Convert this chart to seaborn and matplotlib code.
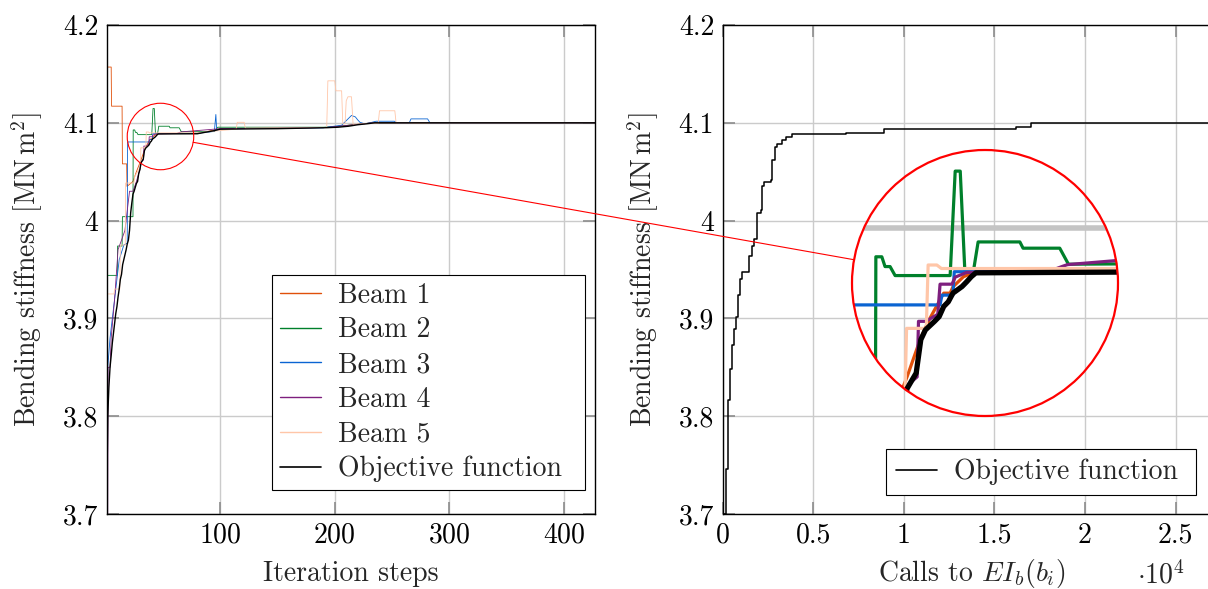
import numpy as np
import matplotlib
matplotlib.use("Agg")
import matplotlib.pyplot as plt
import seaborn as sns
from matplotlib.patches import Circle, Ellipse
from matplotlib.lines import Line2D
from matplotlib.ticker import FuncFormatter, MultipleLocator

# ---- data ----
# objective function vs. iteration steps (left)
iter_obj = [1, 2, 3, 4, 5, 6, 7, 8, 9, 10, 11, 12, 13, 14, 15, 16, 17, 18, 19, 20,
            21, 22, 23, 24, 25, 26, 27, 28, 29, 30, 31, 33, 34, 35, 37, 38, 39, 40,
            41, 43, 44, 45, 46, 80, 88, 95, 100, 150, 193, 203, 212, 220, 228, 235, 427]
val_obj = [3.700, 3.800, 3.830, 3.850, 3.862, 3.875, 3.885, 3.895, 3.905, 3.912,
           3.922, 3.930, 3.940, 3.945, 3.955, 3.960, 3.965, 3.970, 3.976, 3.980,
           3.990, 4.008, 4.018, 4.027, 4.030, 4.034, 4.038, 4.040, 4.048, 4.052,
           4.059, 4.063, 4.0715, 4.074, 4.0762, 4.0774, 4.080, 4.0812, 4.0834, 4.0851,
           4.0863, 4.0876, 4.0886, 4.0888, 4.0905, 4.092, 4.0935, 4.094, 4.095, 4.0955,
           4.0965, 4.098, 4.099, 4.100, 4.100]

iter_b1 = [1, 5, 5.3, 14.5, 14.8, 18.5, 18.8, 24, 27, 31, 34, 36, 39, 40.4, 41, 43.3,
           46, 80, 100, 193, 233, 427]
val_b1 = [4.157, 4.157, 4.117, 4.117, 4.058, 4.058, 4.035, 4.040, 4.050, 4.062, 4.072,
          4.077, 4.0834, 4.0834, 4.085, 4.0876, 4.0889, 4.0891, 4.0938, 4.0952, 4.100, 4.100]

iter_b2 = [1, 10.3, 10.6, 14.5, 14.8, 24, 24.2, 25.5, 26.2, 27.3, 28.4, 40.4, 41.5, 42.6,
           43.6, 45.5, 46.5, 55.6, 56.3, 64.3, 66.2, 95, 98, 190, 200, 233, 427]
val_b2 = [3.944, 3.944, 3.974, 3.974, 4.004, 4.004, 4.0927, 4.0927, 4.0902, 4.0902,
          4.0879, 4.0879, 4.1146, 4.1146, 4.0892, 4.0892, 4.0965, 4.0965, 4.0949, 4.0949,
          4.0908, 4.091, 4.0955, 4.0955, 4.096, 4.100, 4.100]

iter_b3 = [1, 2, 4, 6, 9, 12, 16, 19, 19.3, 38.2, 38.6, 41.0, 41.3, 46, 80, 95, 96.3, 97,
           100, 190, 193, 206, 214.6, 218, 220, 222, 226, 230, 236, 252, 254, 265, 266.5,
           281, 283, 427]
val_b3 = [3.750, 3.850, 3.880, 3.900, 3.930, 3.960, 3.975, 3.977, 4.0804, 4.0804, 4.0829,
          4.0829, 4.0889, 4.0889, 4.0893, 4.0912, 4.1085, 4.0925, 4.0938, 4.0948, 4.0955,
          4.0975, 4.1075, 4.1060, 4.1030, 4.1005, 4.0990, 4.0998, 4.1016, 4.1016, 4.100,
          4.100, 4.104, 4.104, 4.100, 4.100]

iter_b4 = [1, 2, 2.3, 4, 5, 8, 11, 14, 17, 21, 24, 27, 30.5, 31.2, 33.2, 33.5, 35.1, 37.7,
           38.2, 40.8, 41.5, 44, 62, 65, 66, 100, 193, 233, 427]
val_b4 = [3.700, 3.700, 3.850, 3.850, 3.880, 3.920, 3.9704, 3.980, 3.990, 4.030, 4.030,
          4.040, 4.054, 4.060, 4.062, 4.0762, 4.0762, 4.078, 4.0857, 4.0857, 4.0875, 4.0887,
          4.089, 4.0903, 4.0907, 4.094, 4.0952, 4.100, 4.100]

iter_b5 = [1, 7.5, 8, 12.5, 13, 17.3, 17.6, 24.8, 25.5, 30.5, 30.9, 35.2, 35.6, 37.5, 38.5,
           80, 90, 114, 115, 121, 122, 193, 194, 200, 201, 206, 207, 209, 210, 211.5, 214.6,
           216, 238, 239, 252.4, 253.5, 427]
val_b5 = [3.925, 3.925, 3.930, 3.930, 3.975, 3.975, 4.0384, 4.0384, 4.045, 4.055, 4.0744,
          4.0744, 4.0906, 4.0906, 4.0897, 4.0897, 4.091, 4.0935, 4.1005, 4.1005, 4.0945,
          4.0952, 4.1429, 4.1429, 4.1327, 4.1327, 4.099, 4.099, 4.1225, 4.1266, 4.1266,
          4.0985, 4.0998, 4.1123, 4.1123, 4.100, 4.100]

# objective function vs. calls (right)
calls_obj = [60, 170, 220, 280, 330, 390, 440, 500, 610, 720, 830, 940, 1090, 1450, 1640,
             1730, 1915, 2100, 2190, 2280, 2650, 2740, 2870, 3020, 3300, 3480, 3850, 6790,
             8890, 10930, 16170, 17000, 28000]
calls_val = [3.700, 3.710, 3.746, 3.792, 3.817, 3.838, 3.848, 3.873, 3.889, 3.901, 3.924,
             3.940, 3.947, 3.964, 3.974, 3.981, 4.008, 4.011, 4.035, 4.039, 4.042, 4.062,
             4.075, 4.078, 4.082, 4.085, 4.0886, 4.0893, 4.0935, 4.094, 4.0955, 4.100, 4.100]

beams = ["Beam 1", "Beam 2", "Beam 3", "Beam 4", "Beam 5"]
beam_x = [iter_b1, iter_b2, iter_b3, iter_b4, iter_b5]
beam_y = [val_b1, val_b2, val_b3, val_b4, val_b5]
colors = ["#e0500a", "#00802b", "#0a64d2", "#7e1f7e", "#ffc6a8"]

# ---- style ----
sns.set_theme(style="whitegrid")
plt.rcParams['font.family'] = ['cmr10', 'DejaVu Serif']
plt.rcParams['mathtext.fontset'] = 'cm'
plt.rcParams['axes.formatter.use_mathtext'] = True
plt.rcParams['axes.unicode_minus'] = False
FS = 20

W, H = 1208, 589
fig = plt.figure(figsize=(W / 100, H / 100), dpi=100)


def px_axes(x0, y0, x1, y1):
    return fig.add_axes([x0 / W, 1 - y1 / H, (x1 - x0) / W, (y1 - y0) / H])


def style_axes(ax):
    ax.grid(True, color="#cbcbcb", lw=1.0)
    for s in ax.spines.values():
        s.set_color("black")
        s.set_linewidth(1.0)
    ax.tick_params(direction="in", length=8.5, width=1.2, color="#8c8c8c",
                   labelsize=FS, labelcolor="black", top=True, right=True,
                   bottom=True, left=True, pad=6)
    ax.set_ylim(3.7, 4.2)
    ax.yaxis.set_major_locator(MultipleLocator(0.1))
    ax.yaxis.set_major_formatter(FuncFormatter(lambda v, p: "%g" % round(v, 2)))
    ax.set_ylabel(r"Bending stiffness [$\mathrm{MN\,m^2}$]", fontsize=FS, labelpad=13)


def legend_box(ax, handles, labels, x0, y0, x1, pad):
    leg = ax.legend(handles, labels, loc="lower left", mode="expand",
                    bbox_to_anchor=(x0 / W, 1 - y0 / H, (x1 - x0) / W, 0.01),
                    bbox_transform=fig.transFigure, fontsize=FS, frameon=True,
                    fancybox=False, edgecolor="black", framealpha=1, handlelength=1.5,
                    handletextpad=0.6, labelspacing=0.3, borderpad=pad, borderaxespad=0)
    leg.get_frame().set_linewidth(0.8)
    return leg


ax1 = px_axes(106.6, 25, 595, 514)
ax2 = px_axes(722.5, 25, 1220.8, 514)

# ---- left: iterations ----
for name, xs, ys, c in zip(beams, beam_x, beam_y, colors):
    sns.lineplot(x=xs, y=ys, ax=ax1, color=c, lw=0.6, estimator=None, legend=False)
sns.lineplot(x=iter_obj, y=val_obj, ax=ax1, color="black", lw=1.0, estimator=None,
             legend=False)
style_axes(ax1)
ax1.set_xlim(1, 427)
ax1.xaxis.set_major_locator(MultipleLocator(100))
ax1.set_xlabel("Iteration steps", fontsize=FS, labelpad=9)
h1 = [Line2D([], [], color=c, lw=1.0) for c in colors] + [Line2D([], [], color="black", lw=1.2)]
legend_box(ax1, h1, beams + ["Objective function"], 272, 490, 585, 0.28)

# ---- right: calls ----
sns.lineplot(x=calls_obj, y=calls_val, ax=ax2, color="black", lw=1.1,
             drawstyle="steps-post", estimator=None, legend=False)
style_axes(ax2)
ax2.set_xlim(0, 27500)
ax2.xaxis.set_major_locator(MultipleLocator(5000))
ax2.xaxis.set_major_formatter(FuncFormatter(lambda v, p: "%g" % (v / 1e4)))
ax2.set_xlabel(r"Calls to $EI_b(b_i)$", fontsize=FS, labelpad=6)
legend_box(ax2, [Line2D([], [], color="black", lw=1.2)], ["Objective function"],
           886, 495, 1196, 0.35)
fig.text(1161 / W, 1 - 575 / H, r"$\cdot 10^4$", fontsize=FS, ha="center", va="center")

# ---- spy / magnifier ----
mag = 4.0
R_big = 133.0
big_c = (985.0, 283.0)
zoom_c = (48.0, 4.086)
r_small = R_big / mag

sx = ax1.transData.transform((2, 4.0))[0] - ax1.transData.transform((1, 4.0))[0]
sy = ax1.transData.transform((1, 4.1))[1] - ax1.transData.transform((1, 4.0))[1]
rx, ry = r_small / sx, r_small / (sy * 10)

ax_in = px_axes(big_c[0] - R_big, big_c[1] - R_big, big_c[0] + R_big, big_c[1] + R_big)
ax_in.set_xlim(zoom_c[0] - rx, zoom_c[0] + rx)
ax_in.set_ylim(zoom_c[1] - ry, zoom_c[1] + ry)
ax_in.axis("off")
ax_in.axhline(4.1, color="#c4c4c4", lw=4.0, zorder=1)
for xs, ys, c in zip(beam_x, beam_y, colors):
    sns.lineplot(x=xs, y=ys, ax=ax_in, color=c, lw=2.3, estimator=None, legend=False)
sns.lineplot(x=iter_obj, y=val_obj, ax=ax_in, color="black", lw=3.8, estimator=None,
             legend=False)
clip = Circle((0.5, 0.5), 0.5, transform=ax_in.transAxes)
for ln in ax_in.lines:
    ln.set_clip_path(clip)
ax_in.add_patch(Circle((0.5, 0.5), 0.5, transform=ax_in.transAxes, fill=False,
                       ec="red", lw=1.6, clip_on=False, zorder=10))

ax1.add_patch(Ellipse(zoom_c, 2 * rx, 2 * ry, fill=False, ec="red", lw=0.8,
                      zorder=10, clip_on=False))

p_small = ax1.transData.transform(zoom_c)
p_big = ax_in.transAxes.transform((0.5, 0.5))
d = (p_big - p_small) / np.hypot(*(p_big - p_small))
a = fig.transFigure.inverted().transform(p_small + r_small * d)
b = fig.transFigure.inverted().transform(p_big - R_big * d)
fig.add_artist(Line2D([a[0], b[0]], [a[1], b[1]], transform=fig.transFigure,
                      color="red", lw=0.8, zorder=20))

fig.savefig("out.png", dpi=100)
